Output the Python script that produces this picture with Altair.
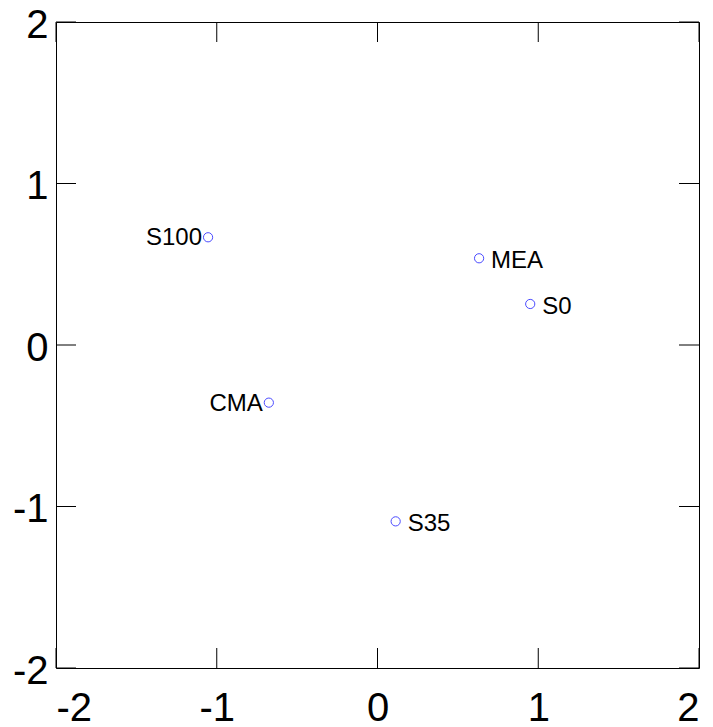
import altair as alt
import pandas as pd

names = ["S100", "MEA", "S0", "CMA", "S35"]
xs = [-1.054, 0.632, 0.950, -0.676, 0.113]
ys = [0.667, 0.537, 0.254, -0.357, -1.092]
sides = ["left", "right", "right", "left", "right"]
ticks = [-2, -1, 0, 1, 2]

df = pd.DataFrame({"name": names, "x": xs, "y": ys, "side": sides})
tdf = pd.DataFrame({"t": ticks})

W, H = 643, 646
TL = 20
FONT = "Liberation Sans"
LBL = "replace(format(datum.value, 'd'), '\u2212', '-')"

xscale = alt.Scale(domain=[-2, 2], nice=False, zero=False)
yscale = alt.Scale(domain=[-2, 2], nice=False, zero=False)

base = alt.Chart(df)

points = base.mark_point(shape="circle", size=85, color="#0000ff", strokeWidth=1, filled=False).encode(
    x=alt.X("x:Q", scale=xscale, axis=alt.Axis(orient="bottom", values=ticks, title=None, ticks=False, domain=False,
                                                grid=False, labelFontSize=40, labelFont=FONT, labelColor="black",
                                                labelPadding=20, labelExpr=LBL)),
    y=alt.Y("y:Q", scale=yscale, axis=alt.Axis(orient="left", values=ticks, title=None, ticks=False, domain=False,
                                                grid=False, labelFontSize=40, labelFont=FONT, labelColor="black",
                                                labelPadding=8, labelOffset=3, labelExpr=LBL)),
)

tb = alt.Chart(tdf)
rule_style = dict(color="black", strokeWidth=1)
tick_bottom = tb.mark_rule(**rule_style).encode(x=alt.X("t:Q", scale=xscale), y=alt.value(H), y2=alt.value(H - TL))
tick_top = tb.mark_rule(**rule_style).encode(x=alt.X("t:Q", scale=xscale), y=alt.value(0), y2=alt.value(TL))
tick_left = tb.mark_rule(**rule_style).encode(y=alt.Y("t:Q", scale=yscale), x=alt.value(0), x2=alt.value(TL))
tick_right = tb.mark_rule(**rule_style).encode(y=alt.Y("t:Q", scale=yscale), x=alt.value(W), x2=alt.value(W - TL))

text_right = base.transform_filter(alt.datum.side == "right").mark_text(
    align="left", baseline="middle", dx=12, dy=3, fontSize=24, font=FONT, color="black"
).encode(x=alt.X("x:Q", scale=xscale), y=alt.Y("y:Q", scale=yscale), text="name:N")

text_left = base.transform_filter(alt.datum.side == "left").mark_text(
    align="right", baseline="middle", dx=-6, dy=1, fontSize=24, font=FONT, color="black"
).encode(x=alt.X("x:Q", scale=xscale), y=alt.Y("y:Q", scale=yscale), text="name:N")

chart = alt.layer(points, tick_bottom, tick_top, tick_left, tick_right, text_right, text_left).properties(
    width=W, height=H,
    background="white",
    autosize=alt.AutoSizeParams(type="none"),
    padding={"left": 48, "top": 14, "right": 6, "bottom": 60},
).configure_view(stroke="black", strokeWidth=1, strokeOpacity=1)

chart.save("out.html", embed_options={"renderer": "svg", "actions": False})
